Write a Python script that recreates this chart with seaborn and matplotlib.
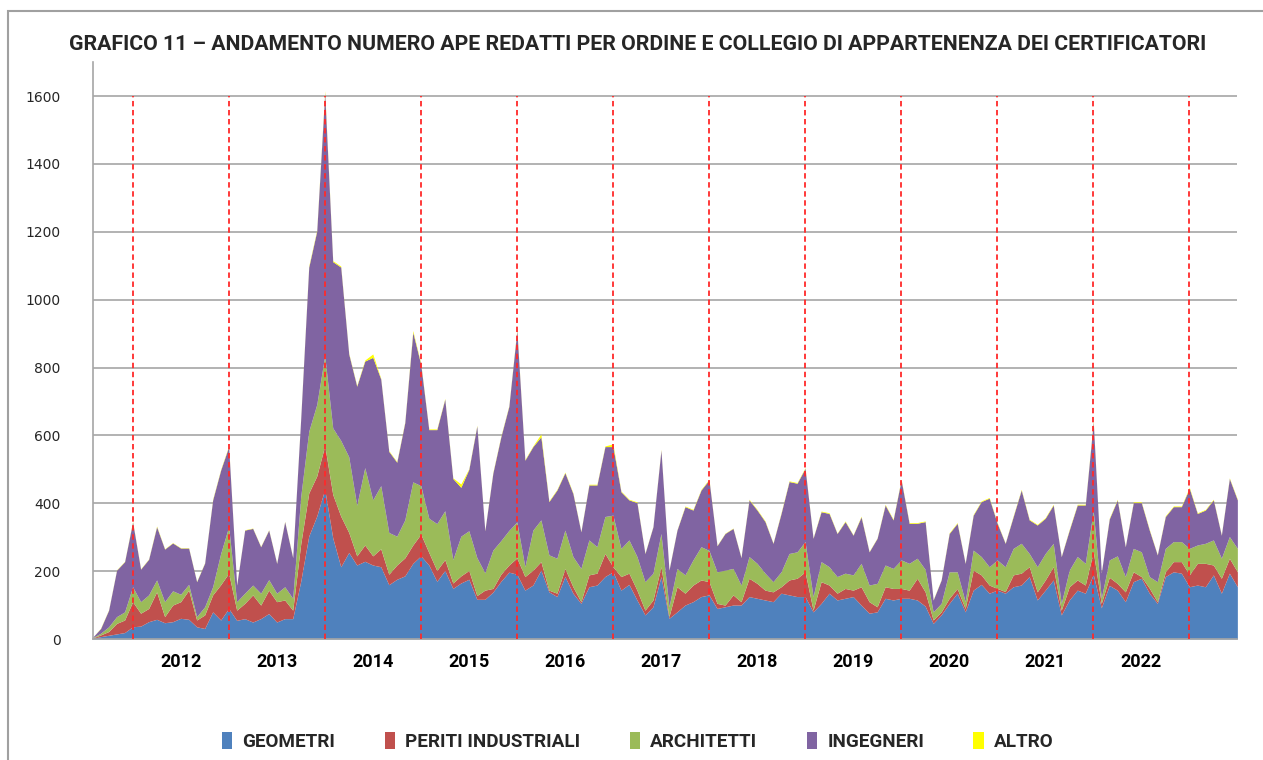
import numpy as np
import pandas as pd
import matplotlib
matplotlib.use("Agg")
import matplotlib.pyplot as plt
import matplotlib.transforms as mtransforms
import seaborn as sns
from matplotlib import font_manager
from matplotlib.patches import Patch, Rectangle

# monthly series, Jul 2011 - Jun 2023
months = pd.date_range("2011-07-01", periods=144, freq="MS")

geometri = [2, 7, 11, 15, 19, 36, 38, 51, 58, 48, 51, 61,
            58, 36, 31, 80, 56, 90, 55, 60, 50, 60, 75, 50,
            60, 60, 170, 303, 362, 441, 298, 213, 255, 218, 229, 218,
            213, 160, 176, 186, 223, 245, 218, 170, 202, 149, 165, 176,
            117, 117, 138, 170, 197, 191, 144, 159, 203, 139, 125, 184,
            135, 105, 154, 159, 184, 198, 144, 161, 115, 71, 95, 184,
            61, 80, 100, 110, 125, 130, 90, 95, 100, 100, 125, 120,
            115, 110, 135, 130, 125, 125, 80, 105, 135, 115, 120, 125,
            100, 76, 80, 120, 115, 120, 120, 115, 97, 46, 71, 105,
            135, 80, 144, 161, 135, 144, 135, 154, 159, 184, 115, 144,
            174, 71, 115, 144, 135, 190, 92, 158, 144, 110, 169, 179,
            135, 105, 184, 198, 194, 154, 159, 154, 189, 135, 194, 154]

periti = [1, 5, 11, 31, 37, 74, 38, 39, 81, 18, 49, 49,
          86, 20, 40, 50, 104, 104, 30, 45, 80, 40, 69, 60,
          55, 25, 110, 127, 118, 129, 128, 149, 59, 27, 48, 27,
          53, 31, 42, 53, 54, 64, 37, 32, 32, 16, 21, 26,
          11, 27, 11, 21, 21, 48, 40, 44, 25, 5, 10, 24,
          19, 5, 35, 35, 68, 15, 40, 33, 29, 14, 20, 29,
          5, 74, 35, 49, 49, 39, 15, 5, 30, 10, 54, 44,
          29, 29, 19, 44, 54, 73, 5, 64, 24, 20, 29, 19,
          54, 34, 15, 34, 34, 29, 24, 64, 42, 10, 9, 15,
          14, 10, 59, 28, 24, 5, 5, 35, 35, 29, 24, 30,
          39, 14, 39, 30, 24, 68, 13, 24, 20, 29, 29, 5,
          15, 5, 14, 30, 34, 35, 64, 69, 29, 44, 44, 44]

architetti = [1, 5, 14, 20, 24, 44, 34, 40, 35, 44, 42, 22,
              17, 10, 24, 24, 92, 137, 25, 30, 29, 35, 31, 25,
              39, 35, 140, 182, 211, 265, 196, 223, 223, 149, 228, 165,
              186, 123, 85, 112, 186, 143, 101, 138, 144, 69, 117, 117,
              112, 51, 113, 99, 102, 106, 29, 118, 123, 104, 103, 113,
              89, 98, 103, 78, 109, 152, 83, 98, 99, 84, 79, 98,
              29, 54, 54, 74, 98, 92, 93, 103, 78, 49, 64, 59,
              50, 30, 44, 78, 78, 89, 40, 59, 54, 49, 45, 45,
              69, 49, 69, 64, 59, 84, 79, 59, 66, 24, 25, 78,
              49, 20, 59, 54, 54, 84, 73, 78, 88, 39, 74, 78,
              69, 20, 49, 69, 64, 120, 15, 51, 81, 45, 69, 73,
              34, 59, 69, 59, 59, 78, 54, 59, 74, 59, 64, 69]

ingegneri = [1, 14, 49, 137, 148, 191, 96, 105, 157, 155, 141, 136,
             107, 103, 129, 256, 246, 236, 49, 186, 167, 137, 146, 88,
             192, 120, 230, 484, 511, 775, 490, 511, 303, 351, 314, 420,
             314, 239, 218, 287, 441, 357, 261, 277, 329, 239, 144, 181,
             388, 124, 227, 306, 366, 565, 314, 246, 245, 157, 201, 169,
             186, 108, 162, 182, 206, 202, 167, 118, 159, 83, 137, 246,
             108, 113, 201, 147, 167, 208, 77, 108, 118, 81, 167, 157,
             152, 113, 172, 212, 202, 216, 172, 147, 157, 127, 152, 117,
             137, 98, 133, 177, 143, 236, 118, 103, 141, 35, 69, 113,
             143, 113, 103, 162, 202, 108, 69, 94, 157, 99, 123, 104,
             113, 138, 118, 152, 172, 262, 75, 121, 165, 88, 135, 145,
             137, 79, 94, 103, 103, 177, 93, 98, 118, 68, 171, 143]

altro = [0, 1, 1, 1, 1, 2, 1, 1, 2, 1, 1, 1,
         1, 1, 1, 2, 2, 2, 1, 1, 1, 1, 1, 1,
         1, 1, 2, 3, 3, 6, 3, 3, 2, 2, 3, 10,
         2, 2, 2, 2, 5, 3, 2, 2, 2, 2, 10, 2,
         2, 1, 2, 2, 2, 3, 2, 2, 8, 2, 2, 2,
         2, 1, 2, 2, 2, 8, 2, 2, 2, 1, 1, 2,
         1, 1, 2, 2, 2, 2, 1, 1, 1, 1, 2, 2,
         2, 1, 2, 2, 2, 2, 1, 2, 2, 1, 2, 1,
         2, 1, 1, 2, 2, 2, 2, 2, 2, 1, 1, 2,
         2, 1, 2, 2, 2, 2, 1, 2, 2, 2, 2, 2,
         2, 1, 2, 2, 2, 3, 1, 2, 2, 1, 2, 2,
         2, 1, 2, 2, 2, 3, 2, 2, 2, 1, 2, 2]

series_names = ["GEOMETRI", "PERITI INDUSTRIALI", "ARCHITETTI", "INGEGNERI", "ALTRO"]
colors = ["#4F81BD", "#C0504D", "#9BBB59", "#8064A2", "#FFFF00"]
title = "GRAFICO 11 \u2013 ANDAMENTO NUMERO APE REDATTI PER ORDINE E COLLEGIO DI APPARTENENZA DEI CERTIFICATORI"

df = pd.DataFrame(dict(zip(series_names, [geometri, periti, architetti, ingegneri, altro])),
                  index=months)

sns.set_style("white")
installed = {f.name for f in font_manager.fontManager.ttflist}
label_font = next(f for f in ["Liberation Sans Narrow", "Roboto", "DejaVu Sans"] if f in installed)
plt.rcParams["font.family"] = [label_font, "DejaVu Sans"]

fig = plt.figure(figsize=(12.63, 7.6), dpi=100)
ax = fig.add_axes([0.0733, 0.1592, 0.9064, 0.7591])

x = np.arange(len(df))
ax.stackplot(x, df.T.values, colors=colors, linewidth=0)

ax.set_xlim(0, len(df) - 1)
ax.set_ylim(0, 1700)
ax.set_yticks(range(0, 1601, 200))
ax.set_xticks([])
ax.yaxis.grid(True, color="#A6A6A6", lw=1.2)
ax.set_axisbelow(True)
for s in ["top", "right"]:
    ax.spines[s].set_visible(False)
for s in ["left", "bottom"]:
    ax.spines[s].set_color("#A6A6A6")
    ax.spines[s].set_linewidth(1.2)
ax.tick_params(axis="y", direction="out", length=5, color="#A6A6A6",
               labelsize=10, labelcolor="#262626", pad=18)
for lab in ax.get_yticklabels():
    lab.set_family("DejaVu Sans")

# red dashed markers at each December
dec_idx = x[df.index.month == 12]
ax.vlines(dec_idx, 0, 1600, colors="#FF2A2A", linestyles=(0, (3, 2)), lw=1.3, zorder=3)

# year labels centred on June
trans = mtransforms.blended_transform_factory(ax.transData, ax.transAxes)
for i in x[(df.index.month == 6) & (df.index.year >= 2012) & (df.index.year <= 2022)]:
    ax.text(i, -0.039, str(df.index[i].year), transform=trans, ha="center", va="center",
            fontsize=13, fontweight="bold", color="black")

fig.text(0.505, 0.941, title, ha="center", va="center", fontsize=15.3, fontweight="bold")

handles = [Patch(facecolor=c, edgecolor="none") for c in colors]
fig.legend(handles, series_names, loc="center", bbox_to_anchor=(0.505, 0.024), ncol=5,
           frameon=False, handlelength=0.55, handleheight=1.0, columnspacing=2.6,
           handletextpad=0.55, prop={"size": 13.6, "weight": "bold"})

fig.add_artist(Rectangle((8 / 1263, -0.5), 2, 0.5 + (1 - 11 / 760), transform=fig.transFigure,
                         fill=False, edgecolor="#A0A0A0", lw=1.5))

fig.savefig("out.png", dpi=100)
